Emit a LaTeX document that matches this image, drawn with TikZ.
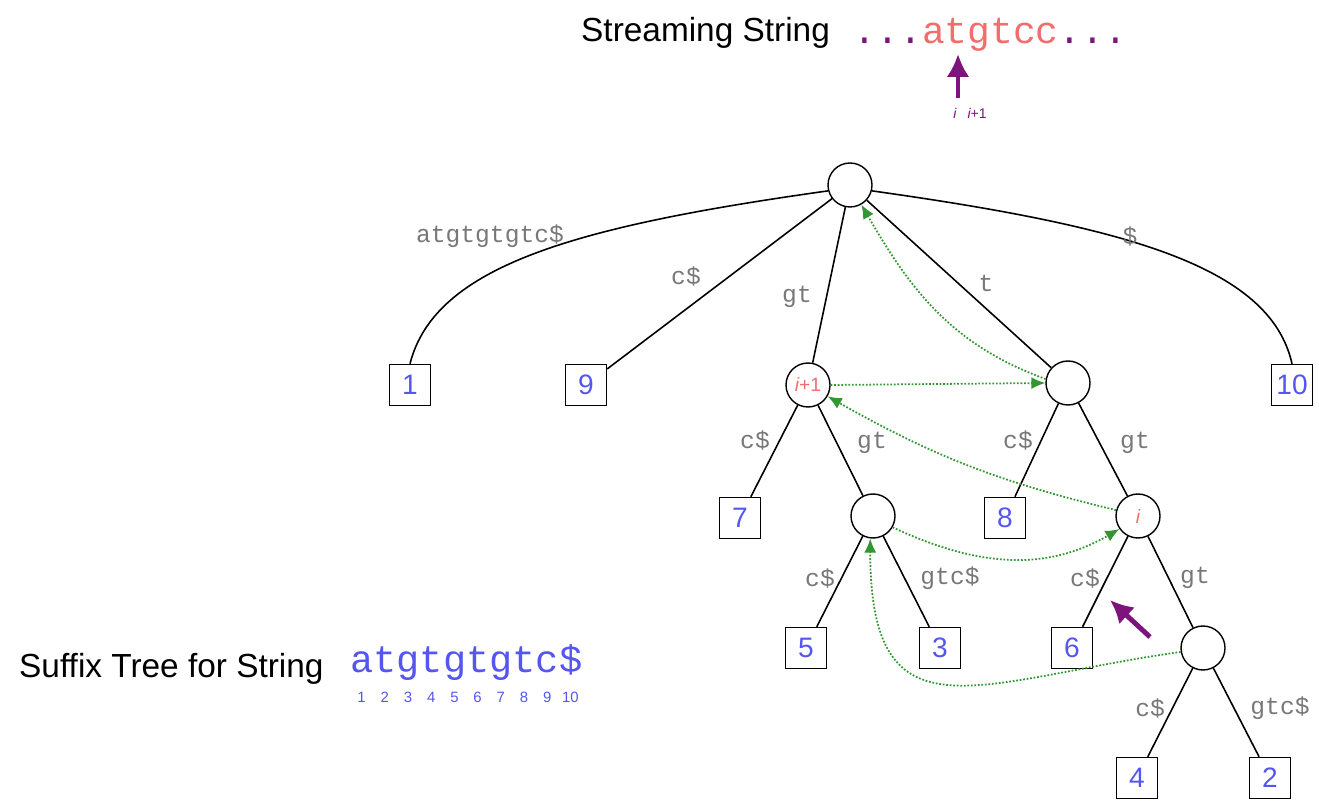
\documentclass[tikz,border=0pt]{standalone}
\usepackage{fontspec}
\setmainfont{Liberation Sans}
\setmonofont{Liberation Mono}
\usetikzlibrary{arrows.meta}

\definecolor{leafblue}{RGB}{85,85,240}
\definecolor{labgray}{RGB}{120,120,120}
\definecolor{linkgreen}{RGB}{50,150,50}
\definecolor{ptrpurple}{RGB}{125,20,125}
\definecolor{strred}{RGB}{242,110,110}

\tikzset{
  inner/.style={draw, circle, minimum size=0.88cm, inner sep=0pt, line width=0.8pt},
  leaf/.style={draw, minimum size=0.82cm, inner sep=0pt, line width=0.8pt, font=\fontsize{16}{18}\selectfont, text=leafblue},
  elabel/.style={font=\ttfamily\fontsize{14}{16}\selectfont, text=labgray},
  edge/.style={line width=0.9pt},
  link/.style={densely dotted, linkgreen, line width=1pt, -{Latex[length=2.8mm,width=2.4mm]}},
  pointer/.style={ptrpurple, line width=2.8pt, -{Latex[length=4.6mm,width=4.6mm]}},
  posmark/.style={font=\itshape\fontsize{11}{12}\selectfont, text=strred}
}

\begin{document}
\begin{tikzpicture}
  \useasboundingbox (0,0) rectangle (26.38,-16.12);

  % Titles
  \node (stitle) [anchor=base west, font=\fontsize{19}{22}\selectfont] at (11.5,-0.84) {Streaming String};
  \node (stream) [anchor=base west, font=\ttfamily\fontsize{21.6}{24}\selectfont, text=strred] at (16.95,-0.88)
    {\textcolor{ptrpurple}{...}atgtcc\textcolor{ptrpurple}{...}};
  \node (ilab) [font=\itshape\fontsize{8}{9}\selectfont, text=ptrpurple] at (19.4,-2.26) {i\hspace{0.8em}i\upshape+1};
  \coordinate (ptrtail) at (19.16,-1.96);
  \coordinate (ptrhead) at (19.16,-1.08);
  \draw[pointer] (ptrtail) -- (ptrhead);

  \node (ttitle) [anchor=base west, font=\fontsize{19}{22}\selectfont] at (0.26,-13.56) {Suffix Tree for String};
  \node (tstring) [anchor=base west, inner sep=0pt, font=\ttfamily\fontsize{22}{24}\selectfont, text=leafblue] at (7.0,-13.46) {atgtgtgtc\$};
  \foreach \k in {1,...,10}
    \node (pos\k) [font=\fontsize{8.5}{9}\selectfont, text=leafblue, inner sep=0pt] at ({7.0+0.464*(\k-0.5)},-13.94) {\k};

  % Internal nodes
  \node (root) [inner] at (17,-3.7) {};
  \node (ngt) [inner, posmark] at (16.16,-7.7) {i\upshape+1};
  \node (nt) [inner] at (21.36,-7.66) {};
  \node (ngtgt) [inner] at (17.46,-10.32) {};
  \node (ntgt) [inner, posmark] at (22.76,-10.32) {i};
  \node (ntgtgt) [inner] at (24.06,-12.96) {};

  % Leaves
  \node (l1) [leaf] at (8.2,-7.7) {1};
  \node (l9) [leaf] at (11.72,-7.7) {9};
  \node (l10) [leaf] at (25.84,-7.7) {10};
  \node (l7) [leaf] at (14.8,-10.36) {7};
  \node (l8) [leaf] at (20.1,-10.36) {8};
  \node (l5) [leaf] at (16.12,-12.96) {5};
  \node (l3) [leaf] at (18.8,-12.96) {3};
  \node (l6) [leaf] at (21.44,-12.96) {6};
  \node (l4) [leaf] at (22.74,-15.56) {4};
  \node (l2) [leaf] at (25.4,-15.56) {2};

  % Tree edges
  \draw[edge] (root.195) .. controls (11.56,-4.52) and (8.7,-5.3) .. (l1.north);
  \draw[edge] (root.-15) .. controls (22.44,-4.52) and (25.4,-5.3) .. (l10.north);
  \draw[edge] (root) -- (l9);
  \draw[edge] (root) -- (ngt);
  \draw[edge] (root) -- (nt);
  \draw[edge] (ngt) -- (l7);
  \draw[edge] (ngt) -- (ngtgt);
  \draw[edge] (nt) -- (l8);
  \draw[edge] (nt) -- (ntgt);
  \draw[edge] (ngtgt) -- (l5);
  \draw[edge] (ngtgt) -- (l3);
  \draw[edge] (ntgt) -- (l6);
  \draw[edge] (ntgt) -- (ntgtgt);
  \draw[edge] (ntgtgt) -- (l4);
  \draw[edge] (ntgtgt) -- (l2);

  % Edge labels
  \node (lab1) [elabel] at (9.8,-4.72) {atgtgtgtc\$};
  \node (lab9) [elabel] at (13.72,-5.52) {c\$};
  \node (labgt) [elabel] at (15.94,-5.94) {gt};
  \node (labt) [elabel] at (19.72,-5.66) {t};
  \node (lab10) [elabel] at (22.6,-4.72) {\$};
  \node (lab7) [elabel] at (15.1,-8.8) {c\$};
  \node (labgtgt) [elabel] at (17.44,-8.86) {gt};
  \node (lab8) [elabel] at (20.36,-8.8) {c\$};
  \node (labtgt) [elabel] at (22.7,-8.86) {gt};
  \node (lab5) [elabel] at (16.4,-11.56) {c\$};
  \node (lab3) [elabel] at (19.0,-11.56) {gtc\$};
  \node (lab6) [elabel] at (21.7,-11.56) {c\$};
  \node (labtgtgt) [elabel] at (23.9,-11.56) {gt};
  \node (lab4) [elabel] at (23.0,-14.16) {c\$};
  \node (lab2) [elabel] at (25.6,-14.16) {gtc\$};

  % Suffix links
  \draw[link] (nt.170) to[out=160,in=-60] (root.-60);
  \draw[link] (ngt.east) -- (nt.west);
  \draw[link] (ntgt.165) to[bend left=8] (ngt.-30);
  \draw[link] (ngtgt.-30) to[out=-25,in=210] (ntgt.215);
  \draw[link] (ntgtgt.190) to[out=188,in=-90,looseness=1.6] (ngtgt.-97);

  % Current position
  \coordinate (curtail) at (23.0,-12.74);
  \coordinate (curhead) at (22.2,-12.0);
  \draw[pointer] (curtail) -- (curhead);
\end{tikzpicture}
\end{document}
